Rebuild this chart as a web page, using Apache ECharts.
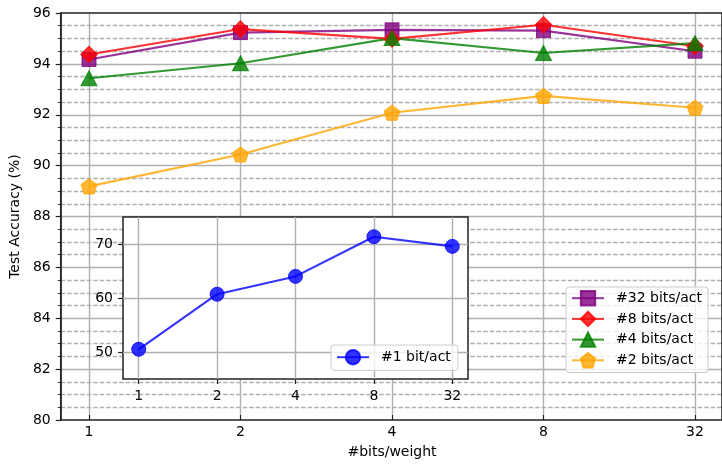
<!DOCTYPE html>
<html>
<head>
<meta charset="utf-8">
<script src="https://cdn.jsdelivr.net/npm/echarts@6/dist/echarts.min.js"></script>
<style>
html,body{margin:0;padding:0;background:#fff;}
#c{width:722px;height:464px;}
</style>
</head>
<body>
<div id="c"></div>
<script>
// ---- data ----
const xLabels = ['1', '2', '4', '8', '32'];
const acc32 = [94.15, 95.22, 95.33, 95.3, 94.48];
const acc8 = [94.35, 95.36, 94.97, 95.53, 94.68];
const acc4 = [93.4, 94.0, 95.0, 94.41, 94.8];
const acc2 = [89.1, 90.37, 92.03, 92.7, 92.23];
const acc1 = [50.5, 60.7, 64.0, 71.35, 69.56];
const mainNames = ['#32 bits/act', '#8 bits/act', '#4 bits/act', '#2 bits/act'];
const insetName = '#1 bit/act';
const yTicksMain = [80, 96, 2];
const yTicksInset = [50, 70, 10];

const FONT = 'DejaVu Sans';
const GRID = '#b0b0b0';
const SPINE = '#222';
const GW = 1.4;
const SW = 1.5;
const pentagon = 'path://M0,-1L0.951,-0.309L0.588,0.809L-0.588,0.809L-0.951,-0.309Z';

function pts(arr) { return arr.map((v, i) => [i, v]); }

function lineSeries(name, arr, color, symbol, size, xi, yi, z) {
  return {
    name: name, type: 'line', xAxisIndex: xi, yAxisIndex: yi, z: z,
    data: pts(arr), symbol: symbol, symbolSize: size, symbolKeepAspect: true,
    showAllSymbol: true,
    lineStyle: { color: color, width: 2.1, opacity: 0.8 },
    itemStyle: { color: color, borderColor: color, borderWidth: 1, opacity: 0.8 },
    emphasis: { disabled: true }, animation: false
  };
}

const labelStyle = { fontSize: 14, color: '#000', fontFamily: FONT };
const hidden = (gi, min, max) => ({ gridIndex: gi, type: 'value', min: min, max: max, show: false, axisLine: { onZero: false } });

const chart = echarts.init(document.getElementById('c'), null, { renderer: 'canvas' });
chart.setOption({
  animation: false,
  backgroundColor: '#fff',
  grid: [
    { left: 58, top: 13, width: 668, height: 407, show: true, backgroundColor: 'transparent', borderColor: SPINE, borderWidth: SW, z: 1 },
    { left: 89, top: 13, width: 606, height: 407 },
    { left: 123, top: 217, width: 345, height: 162, show: true, backgroundColor: '#fff', borderColor: SPINE, borderWidth: SW, z: 3 },
    { left: 138.7, top: 217, width: 313.6, height: 162 },
    { left: 123, top: 244, width: 345, height: 108 }
  ],
  xAxis: [
    hidden(0, -0.2, 4.2),
    {
      gridIndex: 1, type: 'value', min: 0, max: 4, interval: 1,
      axisLine: { show: false, onZero: false },
      axisTick: { show: true, length: 5, lineStyle: { color: SPINE, width: 1.2 } },
      axisLabel: Object.assign({ margin: 10, formatter: v => xLabels[v] }, labelStyle),
      splitLine: { show: true, lineStyle: { color: GRID, width: GW } },
      name: '#bits/weight', nameLocation: 'middle', nameGap: 30, nameTextStyle: labelStyle
    },
    hidden(2, 0, 1),
    {
      gridIndex: 3, type: 'value', min: 0, max: 4, interval: 1, z: 4,
      axisLine: { show: false, onZero: false },
      axisTick: { show: true, length: 5, lineStyle: { color: SPINE, width: 1.2 } },
      axisLabel: Object.assign({ margin: 10, formatter: v => xLabels[v] }, labelStyle),
      splitLine: { show: true, lineStyle: { color: GRID, width: GW } }
    },
    hidden(4, 0, 1)
  ],
  yAxis: [
    {
      gridIndex: 0, type: 'value', min: yTicksMain[0], max: yTicksMain[1], interval: yTicksMain[2],
      axisLine: { show: true, onZero: false, lineStyle: { color: SPINE, width: SW } },
      axisTick: { show: true, length: 5, lineStyle: { color: SPINE, width: 1.2 } },
      minorTick: { show: true, splitNumber: 4, length: 3, lineStyle: { color: SPINE, width: 0.9 } },
      axisLabel: Object.assign({ margin: 10 }, labelStyle),
      splitLine: { show: true, showMinLine: false, showMaxLine: false, lineStyle: { color: GRID, width: GW } },
      minorSplitLine: { show: true, lineStyle: { color: GRID, width: GW, type: [4.5, 2] } },
      name: 'Test Accuracy (%)', nameLocation: 'middle', nameGap: 37, nameRotate: 90, nameTextStyle: labelStyle
    },
    hidden(1, yTicksMain[0], yTicksMain[1]),
    hidden(2, 0, 1),
    hidden(3, 45, 75),
    {
      gridIndex: 4, type: 'value', min: yTicksInset[0], max: yTicksInset[1], interval: yTicksInset[2], z: 4,
      axisLine: { show: false, onZero: false },
      axisTick: { show: true, length: 5, lineStyle: { color: SPINE, width: 1.2 } },
      axisLabel: Object.assign({ margin: 10 }, labelStyle),
      splitLine: { show: true, lineStyle: { color: GRID, width: GW } }
    }
  ],
  legend: [
    {
      data: mainNames, orient: 'vertical', left: 566, top: 287,
      itemWidth: 32, itemHeight: 18, itemGap: 4.3, padding: [3, 6, 4, 5],
      backgroundColor: 'rgba(255,255,255,0.8)', borderColor: '#cccccc', borderWidth: 1, borderRadius: 3,
      textStyle: Object.assign({ padding: [0, 0, 0, 7] }, labelStyle), selectedMode: false, z: 10
    },
    {
      data: [insetName], orient: 'vertical', left: 331, top: 345,
      itemWidth: 32, itemHeight: 18, padding: [4, 7, 5, 5],
      backgroundColor: 'rgba(255,255,255,0.8)', borderColor: '#cccccc', borderWidth: 1, borderRadius: 3,
      textStyle: Object.assign({ padding: [0, 0, 0, 7] }, labelStyle), selectedMode: false, z: 10
    }
  ],
  series: [
    lineSeries(mainNames[0], acc32, '#800080', 'rect', 14, 1, 1, 2),
    lineSeries(mainNames[1], acc8, '#ff0000', 'diamond', 17, 1, 1, 2),
    lineSeries(mainNames[2], acc4, '#008000', 'triangle', [16, 15], 1, 1, 2),
    lineSeries(mainNames[3], acc2, '#ffa500', pentagon, 16, 1, 1, 2),
    lineSeries(insetName, acc1, '#0000ff', 'circle', 14, 3, 3, 5)
  ]
});
</script>
</body>
</html>
